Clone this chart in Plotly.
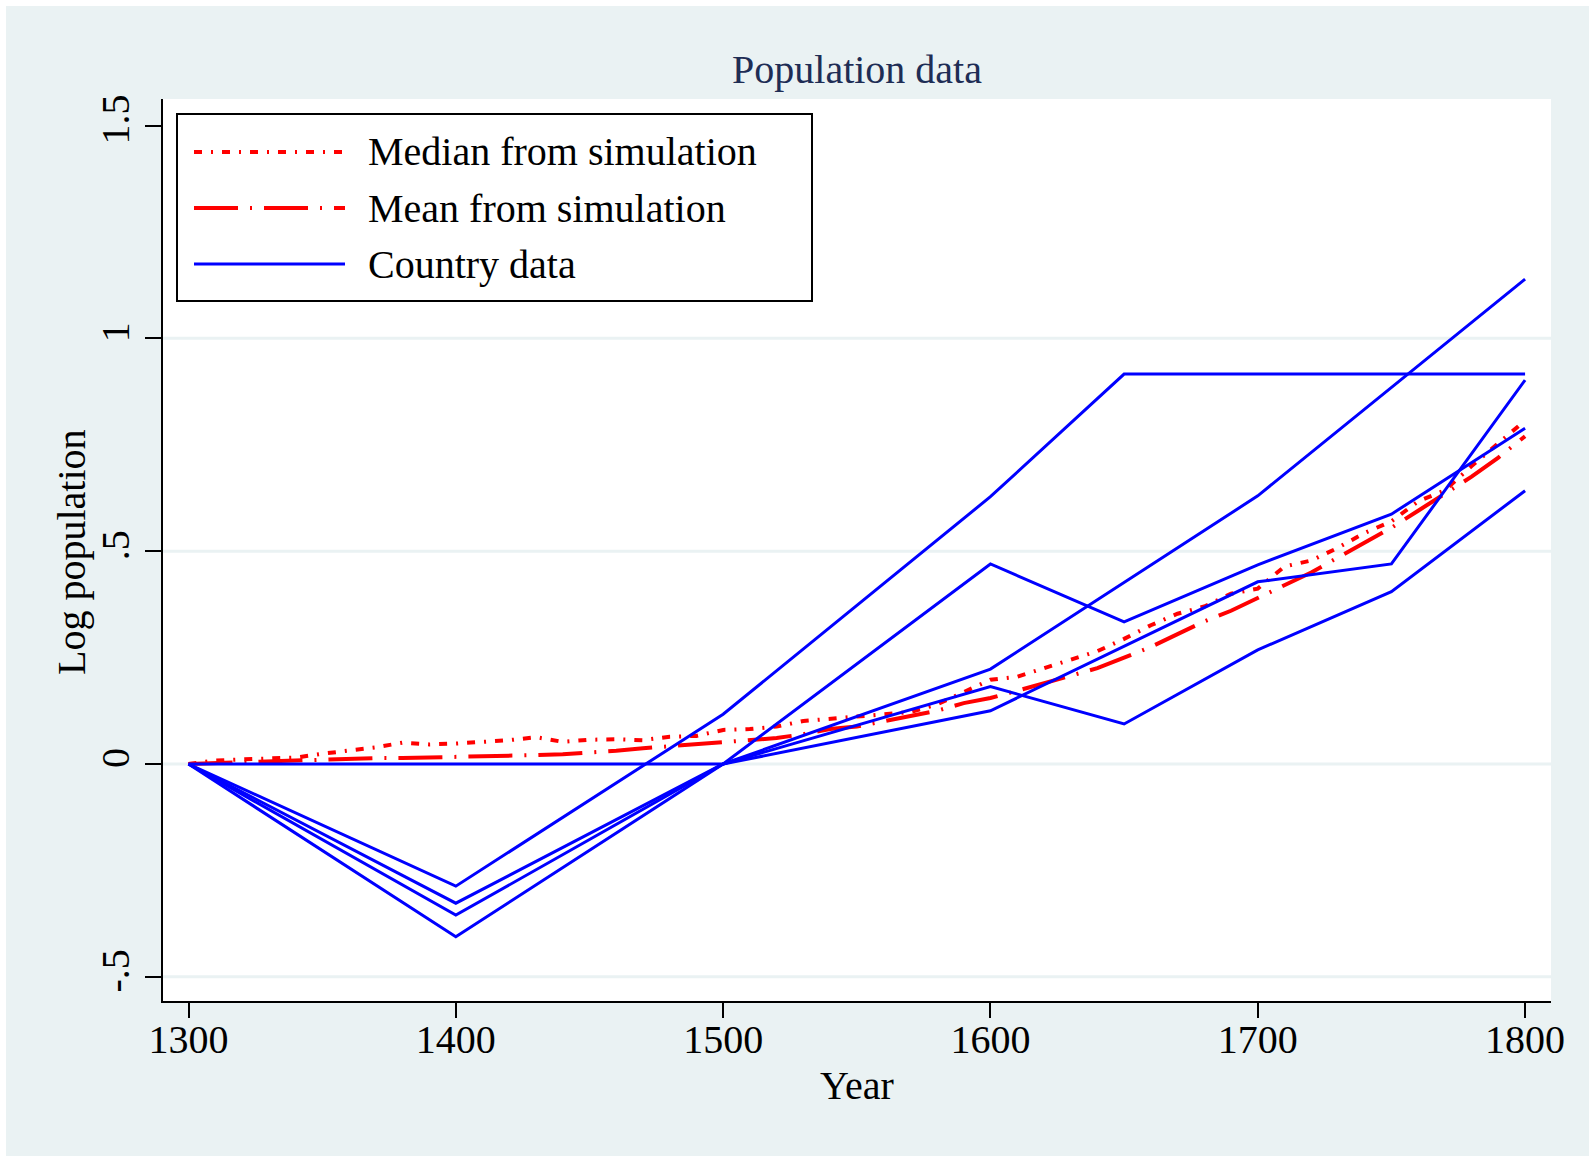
import plotly.graph_objects as go

# ---------------- data ----------------
sim_years = list(range(1300, 1801, 10))
median_sim = [0.0, 0.008, 0.011, 0.014, 0.015, 0.024, 0.031, 0.039, 0.050, 0.046,
              0.048, 0.051, 0.056, 0.063, 0.052, 0.057, 0.058, 0.056, 0.064, 0.066,
              0.080, 0.082, 0.088, 0.101, 0.106, 0.111, 0.116, 0.122, 0.140, 0.168,
              0.198, 0.205, 0.226, 0.245, 0.265, 0.294, 0.326, 0.353, 0.370, 0.400,
              0.412, 0.464, 0.478, 0.508, 0.543, 0.570, 0.617, 0.643, 0.700, 0.755,
              0.807]
mean_sim = [0.0, 0.002, 0.004, 0.006, 0.008, 0.011, 0.013, 0.014, 0.014, 0.015,
            0.016, 0.018, 0.019, 0.021, 0.023, 0.026, 0.031, 0.037, 0.042, 0.046,
            0.050, 0.056, 0.061, 0.070, 0.082, 0.088, 0.100, 0.112, 0.125, 0.143,
            0.155, 0.172, 0.190, 0.208, 0.225, 0.250, 0.275, 0.305, 0.335, 0.360,
            0.390, 0.420, 0.450, 0.485, 0.520, 0.555, 0.595, 0.635, 0.675, 0.720,
            0.770]

country_years = [1300, 1400, 1500, 1600, 1650, 1700, 1750, 1800]
country_1 = [0.0, -0.287, 0.117, 0.628, 0.916, 0.916, 0.916, 0.916]
country_2 = [0.0, 0.0, 0.0, 0.470, 0.334, 0.468, 0.587, 0.789]
country_3 = [0.0, -0.327, 0.0, 0.223, None, 0.630, 0.885, 1.139]
country_4 = [0.0, -0.355, 0.0, 0.182, 0.094, 0.268, 0.405, 0.642]
country_5 = [0.0, -0.406, 0.0, 0.125, None, 0.428, 0.470, 0.902]
countries = [country_1, country_2, country_3, country_4, country_5]

x_ticks = [1300, 1400, 1500, 1600, 1700, 1800]
y_ticks = [-0.5, 0, 0.5, 1, 1.5]
y_ticktext = ["-.5", "0", ".5", "1", "1.5"]
grid_vals = [-0.5, 0, 0.5, 1]

legend_labels = ["Median from simulation", "Mean from simulation", "Country data"]

# ---------------- style ----------------
W, H = 1589, 1156
L, R, T, B = 163, 38, 99, 155
BG = "#EAF2F3"
FONT = "Liberation Serif"
RED = "#FF0000"
BLUE = "#0000FF"
MEDIAN_DASH = "8px,9px,2px,9px"
MEAN_DASH = "44px,12px,2px,12px"

pw, ph = W - L - R, H - T - B


def px_x(px):
    return (px - L) / pw


def px_y(py):
    return (H - B - py) / ph


fig = go.Figure()
fig.add_trace(go.Scatter(x=sim_years, y=median_sim, mode="lines",
                         line=dict(color=RED, width=4, dash=MEDIAN_DASH),
                         showlegend=False))
fig.add_trace(go.Scatter(x=sim_years, y=mean_sim, mode="lines",
                         line=dict(color=RED, width=4, dash=MEAN_DASH),
                         showlegend=False))
for c in countries:
    fig.add_trace(go.Scatter(x=country_years, y=c, mode="lines", connectgaps=True,
                             line=dict(color=BLUE, width=3), showlegend=False))

shapes = []
# gridlines
for g in grid_vals:
    shapes.append(dict(type="line", xref="paper", yref="y", x0=0, x1=1, y0=g, y1=g,
                       line=dict(color=BG, width=3), layer="below"))
# white border strips (left, top)
shapes.append(dict(type="rect", xref="paper", yref="paper", x0=px_x(-5), x1=px_x(6),
                   y0=px_y(H + 5), y1=px_y(-5), fillcolor="white", line=dict(width=0),
                   layer="above"))
shapes.append(dict(type="rect", xref="paper", yref="paper", x0=px_x(-5), x1=px_x(W + 5),
                   y0=px_y(6), y1=px_y(-5), fillcolor="white", line=dict(width=0),
                   layer="above"))
# legend box
shapes.append(dict(type="rect", xref="paper", yref="paper", x0=px_x(177), x1=px_x(812),
                   y0=px_y(301), y1=px_y(114), fillcolor="white",
                   line=dict(color="black", width=2), layer="above"))
leg_y = [152, 208, 264]
leg_styles = [dict(color=RED, width=4, dash=MEDIAN_DASH),
              dict(color=RED, width=4, dash=MEAN_DASH),
              dict(color=BLUE, width=3)]
annotations = []
for yy, st, lab in zip(leg_y, leg_styles, legend_labels):
    shapes.append(dict(type="line", xref="paper", yref="paper", x0=px_x(194), x1=px_x(345),
                       y0=px_y(yy), y1=px_y(yy), line=st, layer="above"))
    annotations.append(dict(text=lab, xref="paper", yref="paper", x=px_x(366), y=px_y(yy),
                            xanchor="left", yanchor="middle", showarrow=False,
                            font=dict(family=FONT, size=40, color="black")))

# axis titles
annotations.append(dict(text="Year", xref="paper", yref="paper", x=0.5, y=px_y(1085),
                        xanchor="center", yanchor="middle", showarrow=False,
                        font=dict(family=FONT, size=40, color="black")))
annotations.append(dict(text="Log population", xref="paper", yref="paper", x=px_x(71),
                        y=px_y(552), xanchor="center", yanchor="middle", textangle=-90,
                        showarrow=False, font=dict(family=FONT, size=40, color="black")))

fig.update_layout(
    width=W, height=H, autosize=False,
    margin=dict(l=L, r=R, t=T, b=B, pad=0),
    paper_bgcolor=BG, plot_bgcolor="white",
    title=dict(text="Population data", x=0.5, xref="paper", xanchor="center",
               y=1 - 69 / H, yref="container", yanchor="middle",
               font=dict(family=FONT, size=40, color="#1E2D55")),
    showlegend=False,
    shapes=shapes, annotations=annotations,
    xaxis=dict(range=[1290.46, 1809.7], tickvals=x_ticks,
               showgrid=False, zeroline=False, showline=True, linecolor="black",
               linewidth=2, ticks="outside", ticklen=15, tickwidth=1.5,
               ticklabelstandoff=-13,
               tickcolor="black", tickfont=dict(family=FONT, size=40, color="black")),
    yaxis=dict(range=[-0.5568, 1.5623], tickvals=y_ticks, ticktext=y_ticktext,
               tickangle=-90, showgrid=False, zeroline=False, showline=True,
               linecolor="black", linewidth=2, ticks="outside", ticklen=16,
               tickwidth=1.5, tickcolor="black",
               tickfont=dict(family=FONT, size=40, color="black")),
)

fig.write_html("out.html")
